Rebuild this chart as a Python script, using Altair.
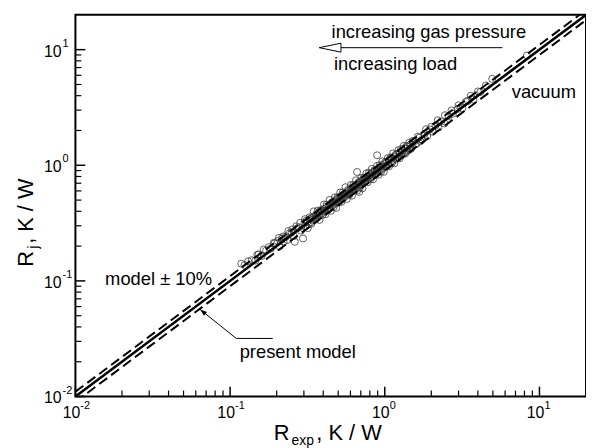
import altair as alt
import pandas as pd

# ---------------- data ----------------
r_exp = [
    0.118, 0.124, 0.131, 0.138, 0.146, 0.153, 0.160, 0.171, 0.183, 0.194,
    0.203, 0.209, 0.216, 0.222, 0.229, 0.235, 0.243, 0.250, 0.258, 0.262, 0.270, 0.279, 0.287, 0.296,
    0.302, 0.306, 0.311, 0.317, 0.322, 0.328, 0.333, 0.338, 0.343, 0.349, 0.354, 0.359, 0.365, 0.370,
    0.376, 0.381, 0.387, 0.392, 0.398, 0.404, 0.411, 0.418, 0.425, 0.433, 0.442,
    0.451, 0.456, 0.462, 0.468, 0.474, 0.480, 0.486, 0.492, 0.499, 0.505, 0.512, 0.519, 0.526, 0.533,
    0.540, 0.547, 0.555, 0.562, 0.570, 0.578, 0.586, 0.594, 0.602, 0.611, 0.619, 0.628, 0.637, 0.646,
    0.655, 0.662, 0.668, 0.675, 0.683, 0.691, 0.699,
    0.706, 0.714, 0.722, 0.731, 0.740, 0.749, 0.758, 0.768, 0.778, 0.788, 0.798, 0.809, 0.820, 0.831,
    0.842, 0.853, 0.865, 0.877, 0.889, 0.893, 0.902, 0.915, 0.928, 0.941, 0.955, 0.969, 0.983, 0.997,
    1.01, 1.03, 1.05, 1.07, 1.09, 1.11, 1.13, 1.15, 1.17, 1.20, 1.22, 1.25, 1.27, 1.30, 1.33, 1.35,
    1.38, 1.41, 1.44, 1.47, 1.50, 1.46,
    1.55, 1.61, 1.67, 1.74, 1.81, 1.88, 1.96, 2.04, 2.13, 2.22, 2.32, 2.43,
    2.58, 2.76, 2.95, 3.18, 3.45, 3.75, 4.15, 4.95, 8.3,
    0.305, 0.318, 0.326, 0.335, 0.347, 0.356, 0.368, 0.379, 0.388, 0.396,
    0.405, 0.414, 0.422, 0.431, 0.440, 0.449, 0.458, 0.467, 0.476, 0.486,
    0.495, 0.505, 0.515, 0.525, 0.536, 0.546, 0.557, 0.568, 0.579, 0.590,
    0.602, 0.614, 0.626, 0.638, 0.651, 0.664, 0.677, 0.690, 0.704, 0.718,
    0.732, 0.746, 0.761, 0.776, 0.792, 0.808, 0.824, 0.840, 0.857, 0.874,
    0.892, 0.910, 0.928, 0.946, 0.965, 0.985, 1.005, 1.025, 1.046, 1.067,
    1.088, 1.110, 1.132, 1.155, 1.178, 1.202, 1.226, 1.251, 1.276, 1.302,
    1.328, 1.355, 1.382, 1.410, 1.440, 1.480, 1.52, 1.58, 1.64, 1.70,
    0.150, 0.165, 0.178, 0.192, 0.207, 0.221, 0.238, 0.252, 0.268, 0.284,
    1.85, 2.0, 2.2, 2.45, 2.7, 3.0, 3.35, 3.6, 4.0, 4.5,
]
r_j = [
    0.141, 0.137, 0.148, 0.151, 0.150, 0.170, 0.164, 0.183, 0.190, 0.211,
    0.221, 0.199, 0.232, 0.218, 0.241, 0.226, 0.259, 0.262, 0.244, 0.218, 0.284, 0.290, 0.272, 0.233,
    0.318, 0.297, 0.331, 0.325, 0.309, 0.344, 0.322, 0.352, 0.338, 0.361, 0.346, 0.372, 0.351, 0.389,
    0.367, 0.398, 0.379, 0.407, 0.388, 0.419, 0.401, 0.436, 0.414, 0.447, 0.430,
    0.468, 0.445, 0.479, 0.456, 0.489, 0.470, 0.503, 0.481, 0.516, 0.495, 0.527, 0.506, 0.544, 0.520,
    0.559, 0.531, 0.571, 0.549, 0.586, 0.560, 0.601, 0.575, 0.624, 0.596, 0.642, 0.611, 0.658, 0.627,
    0.676, 0.875, 0.641, 0.698, 0.589, 0.713, 0.682,
    0.731, 0.690, 0.748, 0.712, 0.769, 0.728, 0.781, 0.745, 0.806, 0.762, 0.823, 0.786, 0.851, 0.805,
    0.869, 0.828, 0.894, 0.851, 0.912, 1.22, 0.878, 0.951, 0.897, 0.972, 0.925, 1.004, 0.951, 1.028,
    0.978, 1.07, 1.01, 1.11, 1.05, 1.16, 1.09, 1.19, 1.13, 1.24, 1.17, 1.29, 1.21, 1.34, 1.27, 1.40,
    1.31, 1.45, 1.37, 1.52, 1.44, 1.39,
    1.61, 1.55, 1.73, 1.66, 1.87, 1.79, 2.04, 1.95, 2.21, 2.11, 2.39, 2.30,
    2.66, 2.79, 3.06, 3.12, 3.61, 3.70, 4.30, 5.60, 8.9,
    0.342, 0.286, 0.355, 0.312, 0.399, 0.338, 0.405, 0.337, 0.411, 0.372,
    0.458, 0.377, 0.456, 0.414, 0.502, 0.404, 0.481, 0.434, 0.528, 0.428,
    0.530, 0.480, 0.582, 0.483, 0.584, 0.530, 0.646, 0.511, 0.614, 0.555,
    0.674, 0.546, 0.676, 0.606, 0.742, 0.604, 0.711, 0.642, 0.774, 0.632,
    0.783, 0.716, 0.852, 0.714, 0.863, 0.760, 0.931, 0.756, 0.908, 0.830,
    0.990, 0.828, 1.002, 0.880, 1.081, 0.877, 1.065, 0.974, 1.151, 0.982,
    1.164, 1.043, 1.268, 1.040, 1.237, 1.142, 1.349, 1.151, 1.378, 1.250,
    1.474, 1.260, 1.465, 1.340, 1.570, 1.391, 1.626, 1.517, 1.771, 1.615,
    0.168, 0.187, 0.196, 0.214, 0.236, 0.243, 0.270, 0.279, 0.297, 0.318,
    2.05, 2.15, 2.45, 2.71, 2.98, 3.30, 3.55, 4.0, 4.35, 4.9,
]

# model line and +/-10 % band
model_x = [0.01, 20.0]
model_y = [0.01, 20.0]
upper_y = [0.011, 22.0]
lower_y = [0.009, 18.0]

# ticks
major_ticks = [0.01, 0.1, 1.0, 10.0]
tick_base = ["10", "10", "10", "10"]
tick_exponents = ["-2", "-1", "0", "1"]
minor_ticks = [0.02, 0.03, 0.04, 0.05, 0.06, 0.07, 0.08, 0.09,
               0.2, 0.3, 0.4, 0.5, 0.6, 0.7, 0.8, 0.9,
               2, 3, 4, 5, 6, 7, 8, 9]

# annotations
ann_text = ["increasing gas pressure", "increasing load", "vacuum",
            "model \u00b1 10%", "present model"]
ann_x = [0.453, 0.469, 6.62, 0.01556, 0.1153]
ann_y = [14.2, 7.57, 4.34, 0.1037, 0.0243]

gas_arrow_x = [5.77, 0.522]
gas_arrow_y = [10.4, 10.4]
gas_head_x = [0.443]
gas_head_y = [10.4]

leader_x = [0.1887, 0.1097, 0.064]
leader_y = [0.0318, 0.0318, 0.0566]
leader_seq = [0, 1, 2]

# ---------------- chart ----------------
W, H = 515, 385
FONT = "Liberation Sans"

xsc = alt.Scale(type="log", domain=[0.01, 20], nice=False)
ysc = alt.Scale(type="log", domain=[0.01, 20], nice=False)


def X(f):
    return alt.X(f, type="quantitative", scale=xsc, axis=None)


def Y(f):
    return alt.Y(f, type="quantitative", scale=ysc, axis=None)


pts = pd.DataFrame({"r_exp": r_exp, "r_j": r_j})
lines = pd.DataFrame({"x": model_x, "y": model_y, "up": upper_y, "lo": lower_y})
majors = pd.DataFrame({"t": major_ticks, "b": tick_base, "e": tick_exponents})
minors = pd.DataFrame({"t": minor_ticks})
ann = pd.DataFrame({"x": ann_x, "y": ann_y, "s": ann_text})
gas = pd.DataFrame({"x": gas_arrow_x, "y": gas_arrow_y})
gas_head = pd.DataFrame({"x": gas_head_x, "y": gas_head_y})
leader = pd.DataFrame({"x": leader_x, "y": leader_y, "o": leader_seq})
leader_tip = leader.tail(1)

scatter = alt.Chart(pts).mark_point(shape="circle", filled=False, size=50,
                                    color="#3a3a3a", strokeWidth=0.8, opacity=1).encode(
    x=X("r_exp"), y=Y("r_j"))

solid = alt.Chart(lines).mark_line(color="black", strokeWidth=2.5, clip=True).encode(
    x=X("x"), y=Y("y"))
upper = alt.Chart(lines).mark_line(color="black", strokeWidth=2, strokeDash=[10, 5],
                                   clip=True).encode(x=X("x"), y=Y("up"))
lower = alt.Chart(lines).mark_line(color="black", strokeWidth=2, strokeDash=[10, 5],
                                   clip=True).encode(x=X("x"), y=Y("lo"))

xt_major = alt.Chart(majors).mark_rule(color="black", strokeWidth=1.5).encode(
    x=X("t"), y=alt.value(H), y2=alt.value(H - 10))
xt_minor = alt.Chart(minors).mark_rule(color="black", strokeWidth=1.2).encode(
    x=X("t"), y=alt.value(H), y2=alt.value(H - 6))
yt_major = alt.Chart(majors).mark_rule(color="black", strokeWidth=1.5).encode(
    y=Y("t"), x=alt.value(0), x2=alt.value(10))
yt_minor = alt.Chart(minors).mark_rule(color="black", strokeWidth=1.2).encode(
    y=Y("t"), x=alt.value(0), x2=alt.value(6))

# tick labels: "10" with raised exponent
x_base = alt.Chart(majors).mark_text(align="center", baseline="alphabetic", fontSize=16,
                                     dx=-4, font=FONT, color="black").encode(
    x=X("t"), y=alt.value(H + 22), text="b:N")
x_exp = alt.Chart(majors).mark_text(align="left", baseline="alphabetic", fontSize=11,
                                    dx=5, font=FONT, color="black").encode(
    x=X("t"), y=alt.value(H + 13), text="e:N")
y_base = alt.Chart(majors).mark_text(align="right", baseline="alphabetic", fontSize=16,
                                     dy=7, font=FONT, color="black").encode(
    y=Y("t"), x=alt.value(-14), text="b:N")
y_exp = alt.Chart(majors).mark_text(align="left", baseline="alphabetic", fontSize=11,
                                    dy=-3, font=FONT, color="black").encode(
    y=Y("t"), x=alt.value(-13), text="e:N")

ann_layer = alt.Chart(ann).mark_text(align="left", baseline="middle", fontSize=18.5,
                                     font=FONT, color="black").encode(
    x=X("x"), y=Y("y"), text="s:N")

gas_line = alt.Chart(gas).mark_line(color="black", strokeWidth=1).encode(x=X("x"), y=Y("y"))
gas_arrow = alt.Chart(gas_head).mark_point(shape="M-1,0L1,-0.41L1,0.41Z", filled=True,
                                           fill="white", stroke="black", strokeWidth=1,
                                           size=484, opacity=1).encode(x=X("x"), y=Y("y"))
leader_line = alt.Chart(leader).mark_line(color="black", strokeWidth=1).encode(
    x=X("x"), y=Y("y"), order="o:Q")
leader_head = alt.Chart(leader_tip).mark_point(shape="M0,0L0.35,1L-0.35,1Z", filled=True,
                                               color="black", size=196, angle=309,
                                               opacity=1).encode(x=X("x"), y=Y("y"))


# axis titles (with subscripts)
def txt(s, px, py, size, angle=0):
    return alt.Chart(pd.DataFrame({"s": [s]})).mark_text(
        align="left", baseline="alphabetic", fontSize=size, font=FONT, color="black",
        angle=angle).encode(x=alt.value(px), y=alt.value(py), text="s:N")


xt1 = txt("R", 200, 429, 22)
xt2 = txt("exp", 218, 434, 14)
xt3 = txt(",  K / W", 243, 429, 22)
yt1 = txt("R", -43, 254, 22, 270)
yt2 = txt("j", -38, 236, 14, 270)
yt3 = txt(",  K / W", -43, 231, 22, 270)

chart = alt.layer(
    scatter, solid, upper, lower,
    xt_major, xt_minor, yt_major, yt_minor, x_base, x_exp, y_base, y_exp,
    ann_layer, gas_line, gas_arrow, leader_line, leader_head,
    xt1, xt2, xt3, yt1, yt2, yt3,
).properties(
    width=W, height=H,
    autosize=alt.AutoSizeParams(type="none"),
    padding={"left": 68, "top": 5, "right": 0, "bottom": 50},
).configure(font=FONT).configure_view(stroke="black", strokeWidth=2)

chart.save("out.html", embed_options={"renderer": "svg", "actions": False})
